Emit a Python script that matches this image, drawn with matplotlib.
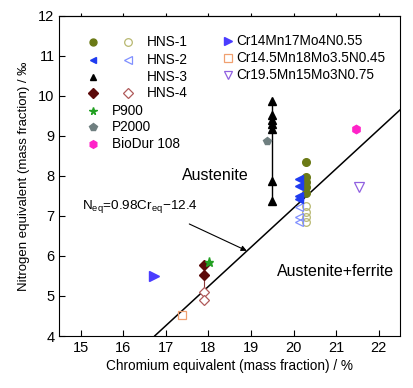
import numpy as np
import matplotlib.pyplot as plt

plt.rcParams['font.family'] = ['Liberation Sans', 'DejaVu Sans']
plt.rcParams['mathtext.fontset'] = 'custom'
plt.rcParams['mathtext.rm'] = 'Liberation Sans'

# HNS series (Cr_eq, N_eq)
hns1_x = [20.3, 20.3, 20.3, 20.3, 20.3]
hns1_y = [8.35, 7.97, 7.85, 7.72, 7.58]
hns1o_x = [20.3, 20.3, 20.3, 20.3]
hns1o_y = [7.25, 7.09, 6.97, 6.84]

hns2_x = [20.13, 20.13, 20.13, 20.13]
hns2_y = [7.92, 7.75, 7.5, 7.42]
hns2o_x = [20.13, 20.13, 20.13]
hns2o_y = [7.22, 6.97, 6.85]

hns3_x = [19.5, 19.5, 19.5, 19.5, 19.5, 19.5, 19.5]
hns3_y = [9.87, 9.52, 9.4, 9.3, 9.18, 7.88, 7.38]

hns4_x = [17.9, 17.9]
hns4_y = [5.78, 5.52]
hns4o_x = [17.9, 17.9]
hns4o_y = [5.1, 4.9]

p900 = (18.02, 5.86)
p2000 = (19.37, 8.87)
biodur = (21.46, 9.18)
cr14 = (16.73, 5.5)
cr145 = (17.38, 4.53)
cr195 = (21.54, 7.73)

line_x = [16.74, 22.5]

fig = plt.figure(figsize=(4.13, 3.88), dpi=100)
ax = fig.add_axes([0.144, 0.134, 0.8245, 0.825])

ax.plot(line_x, [0.98 * v - 12.4 for v in line_x], color='black', lw=1.1)

ax.plot(hns3_x, hns3_y, color='black', lw=1.0, marker='^', ms=5.5, mfc='black', mec='black')
ax.plot(hns4_x + hns4o_x, hns4_y + hns4o_y, color='#8b3a3a', lw=0.8)
ax.plot(hns4_x, hns4_y, ls='none', marker='D', ms=5, color='#5c0a0a')
ax.plot(hns4o_x, hns4o_y, ls='none', marker='D', ms=5, mfc='white', mec='#b05a5a', mew=0.9)

ax.plot(hns1o_x, hns1o_y, ls='none', marker='o', ms=5.5, mfc='none', mec='#b8b870', mew=0.9)
ax.plot(hns2o_x, hns2o_y, ls='none', marker='<', ms=5.5, mfc='none', mec='#8090ff', mew=0.9)
ax.plot(hns1_x, hns1_y, ls='none', marker='o', ms=5.5, color='#6b7a16')
ax.plot(hns2_x, hns2_y, ls='none', marker='<', ms=6, color='#1f3cf0')

ax.plot(*p900, ls='none', marker='*', ms=6.5, color='#22a022')
ax.plot(*p2000, ls='none', marker='p', ms=6, color='#6f7f80')
ax.plot(*biodur, ls='none', marker='h', ms=6, color='#ff22c8')
ax.plot(*cr14, ls='none', marker='>', ms=6.5, color='#4a3cff')
ax.plot(*cr145, ls='none', marker='s', ms=5.5, mfc='none', mec='#f0a070', mew=0.9)
ax.plot(*cr195, ls='none', marker='v', ms=6.5, mfc='none', mec='#9060e0', mew=0.9)

ax.text(17.37, 8.0, 'Austenite', fontsize=11.5, va='center')
ax.text(19.61, 5.62, 'Austenite+ferrite', fontsize=11.5, va='center')
ax.text(15.02, 7.24, r'N$_{\rm eq}$=0.98Cr$_{\rm eq}$$-$12.4', fontsize=9.7, va='center')
ax.annotate('', xy=(18.9, 6.13), xytext=(17.55, 6.8),
            arrowprops=dict(arrowstyle='-|>', color='black', lw=0.8,
                            shrinkA=0, shrinkB=0, mutation_scale=8))

# legend drawn in axes coordinates
leg_rows = [0.918, 0.862, 0.809, 0.759]
leg_labels = ['HNS-1', 'HNS-2', 'HNS-3', 'HNS-4']
filled = [('o', '#6b7a16'), ('<', '#1f3cf0'), ('^', 'black'), ('D', '#5c0a0a')]
opened = [('o', '#b8b870'), ('<', '#8090ff'), None, ('D', '#b05a5a')]
for yy, lab, f, o in zip(leg_rows, leg_labels, filled, opened):
    ax.plot(0.098, yy, transform=ax.transAxes, marker=f[0], color=f[1], ms=5, ls='none')
    if o:
        ax.plot(0.201, yy, transform=ax.transAxes, marker=o[0], mfc='none', mec=o[1],
                mew=0.9, ms=5.5, ls='none')
    ax.text(0.258, yy, lab, transform=ax.transAxes, fontsize=9.8, va='center')

other = [('*', '#22a022', 'P900', 0.703), ('p', '#6f7f80', 'P2000', 0.653),
         ('h', '#ff22c8', 'BioDur 108', 0.600)]
for m, c, lab, yy in other:
    ax.plot(0.098, yy, transform=ax.transAxes, marker=m, color=c, ms=5.5, ls='none')
    ax.text(0.155, yy, lab, transform=ax.transAxes, fontsize=9.8, va='center')

right = [('>', '#4a3cff', True, 'Cr14Mn17Mo4N0.55', 0.921),
         ('s', '#f0a070', False, 'Cr14.5Mn18Mo3.5N0.45', 0.868),
         ('v', '#9060e0', False, 'Cr19.5Mn15Mo3N0.75', 0.815)]
for m, c, fill, lab, yy in right:
    if fill:
        ax.plot(0.494, yy, transform=ax.transAxes, marker=m, color=c, ms=6, ls='none')
    else:
        ax.plot(0.494, yy, transform=ax.transAxes, marker=m, mfc='none', mec=c,
                mew=0.9, ms=5.5, ls='none')
    ax.text(0.52, yy, lab, transform=ax.transAxes, fontsize=9.8, va='center')

ax.set_xlim(14.5, 22.5)
ax.set_ylim(4, 12)
ax.set_xticks(np.arange(15, 23, 1))
ax.set_yticks(np.arange(4, 13, 1))
ax.tick_params(direction='in', labelsize=10.5, length=4)

top = ax.secondary_xaxis('top')
top.set_xticks(np.arange(15, 23, 1))
top.tick_params(direction='out', length=2.5, labeltop=False)

ax.set_xlabel('Chromium equivalent (mass fraction) / %', fontsize=9.8, labelpad=3)
ax.set_ylabel('Nitrogen equivalent (mass fraction) / ‰', fontsize=9.5, labelpad=6)

fig.savefig('out.png', dpi=100)
